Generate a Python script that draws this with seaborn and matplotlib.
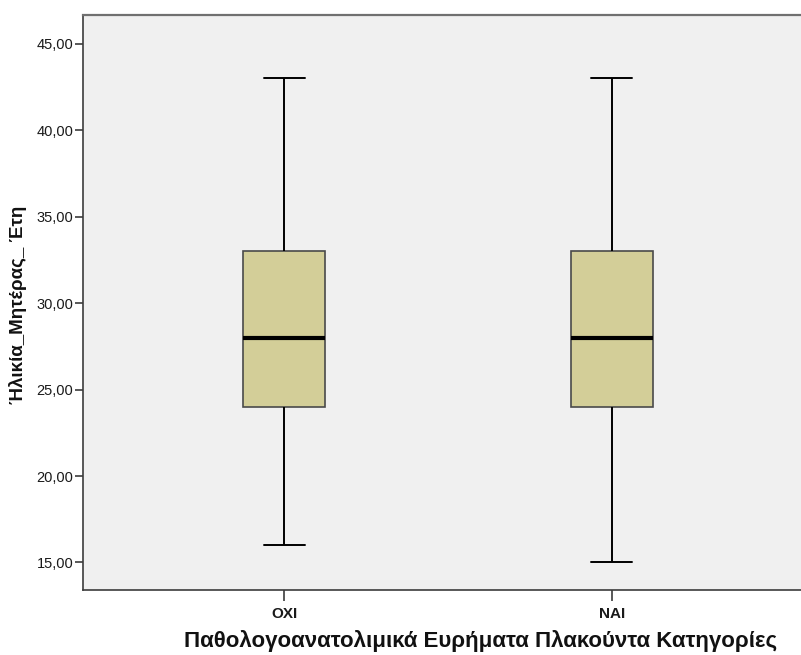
import matplotlib
matplotlib.use("Agg")
import matplotlib.pyplot as plt
import matplotlib.ticker as mticker
import seaborn as sns
import pandas as pd

# Five-number summaries per group (min, Q1, median, Q3, max)
categories = ["ΟΧΙ", "ΝΑΙ"]
oxi_values = [16, 24, 28, 33, 43]
nai_values = [15, 24, 28, 33, 43]
y_ticks = [15, 20, 25, 30, 35, 40, 45]

df = pd.DataFrame({
    "group": [categories[0]] * len(oxi_values) + [categories[1]] * len(nai_values),
    "age": oxi_values + nai_values,
})

sns.set_theme(style="white")
plt.rcParams["font.family"] = ["Liberation Sans", "DejaVu Sans"]

fig = plt.figure(figsize=(8.01, 6.55), dpi=100)
ax = fig.add_axes([83 / 801, 65 / 655, 730 / 801, 575 / 655])
ax.set_facecolor("#F0F0F0")

sns.boxplot(
    data=df, x="group", y="age", order=categories, ax=ax,
    width=0.25, color="#D3CE98", saturation=1, whis=1.5,
    linecolor="black", linewidth=1.4,
    boxprops=dict(edgecolor="#4a4a4a", linewidth=1.2),
    medianprops=dict(color="black", linewidth=3),
    whiskerprops=dict(color="black", linewidth=1.4),
    capprops=dict(color="black", linewidth=1.4),
    showfliers=False,
)

ax.set_xlim(-0.613, 1.0 + 0.613)
ax.set_ylim(13.41, 46.65)
ax.set_yticks(y_ticks)
ax.yaxis.set_major_formatter(mticker.FuncFormatter(lambda v, p: f"{v:.2f}".replace(".", ",")))

for side in ["left", "bottom", "top"]:
    ax.spines[side].set_visible(True)
    ax.spines[side].set_color("#3c3c3c")
    ax.spines[side].set_linewidth(1.2)
ax.spines["top"].set_color("#707070")
ax.spines["top"].set_linewidth(1.6)
ax.spines["right"].set_visible(False)

ax.tick_params(axis="y", which="major", length=6, width=1.2, color="#3c3c3c",
               labelsize=10.5, labelcolor="#1a1a1a", pad=1, left=True)
ax.tick_params(axis="x", which="major", length=8, width=1.2, color="#3c3c3c",
               labelsize=11, labelcolor="#1a1a1a", pad=4, bottom=True)
for lbl in ax.get_xticklabels():
    lbl.set_fontweight("bold")

ax.set_xlabel("Παθολογοανατολιμικά Ευρήματα Πλακούντα Κατηγορίες",
              fontsize=16, fontweight="bold", color="#111111")
ax.set_ylabel("Ήλικία_Μητέρας_ Έτη", fontsize=13.5, fontweight="bold", color="#111111")
ax.xaxis.set_label_coords((481 - 83) / 730, -(641 - 590) / 575)
ax.xaxis.label.set_va("center")
ax.yaxis.set_label_coords(-(83 - 18) / 730, (590 - 305) / 575)
ax.yaxis.label.set_va("center")

fig.savefig("out.png", dpi=100)
